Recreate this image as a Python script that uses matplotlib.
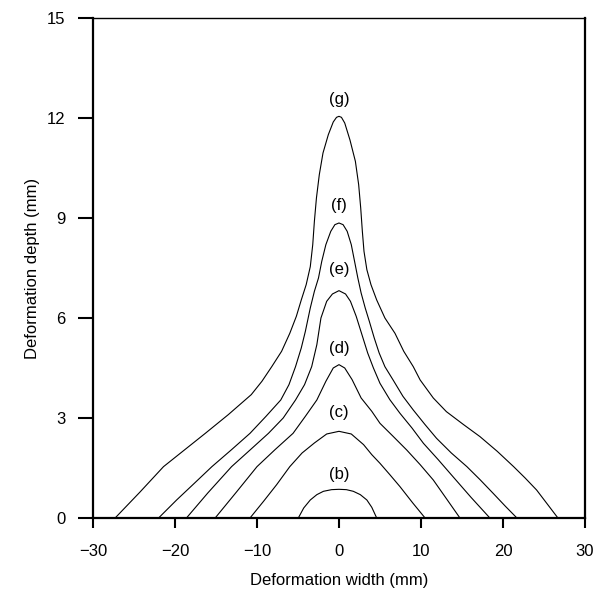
import matplotlib
matplotlib.use("Agg")
import matplotlib.pyplot as plt

plt.rcParams['font.family'] = ['Liberation Sans', 'DejaVu Sans']

# curve (b)
b_x = [-4.96, -4.3, -3.5, -2.7, -1.9, -0.9, 0, 0.9, 1.75, 2.6, 3.4, 4.0, 4.6]
b_y = [0, 0.3, 0.54, 0.7, 0.8, 0.85, 0.86, 0.85, 0.8, 0.7, 0.54, 0.32, 0]

# curve (c)
c_x = [-10.85, -9.2, -7.6, -6.0, -4.5, -3.0, -1.5, 0,
       1.5, 3.0, 4.0, 5.0, 6.2, 7.44, 9.0, 10.5]
c_y = [0, 0.5, 1.0, 1.54, 1.95, 2.25, 2.52, 2.6,
       2.52, 2.2, 1.9, 1.64, 1.3, 0.94, 0.45, 0]

# curve (d)
d_x = [-15.1, -12.5, -10.0, -7.8, -5.6, -4.1, -2.7, -1.6, -0.7, 0,
       0.7, 1.6, 2.7, 4.0, 5.0, 6.6, 8.26, 9.9, 11.5, 13.1, 14.75]
d_y = [0, 0.78, 1.54, 2.05, 2.54, 3.05, 3.54, 4.1, 4.5, 4.6,
       4.5, 4.15, 3.6, 3.2, 2.84, 2.45, 2.04, 1.6, 1.14, 0.58, 0]

# curve (e)
e_x = [-18.6, -16.0, -13.1, -10.8, -8.6, -6.8, -5.3, -4.2, -3.33, -2.7, -2.2, -1.5, -0.8, 0,
       0.8, 1.4, 2.1, 2.8, 3.5, 4.2, 5.0, 6.2, 7.44, 8.9, 10.3, 12.1, 13.9, 16.1, 18.4]
e_y = [0, 0.75, 1.54, 2.05, 2.54, 3.0, 3.54, 4.0, 4.54, 5.2, 6.0, 6.5, 6.72, 6.82,
       6.72, 6.5, 6.05, 5.5, 4.95, 4.5, 4.04, 3.55, 3.14, 2.7, 2.24, 1.75, 1.24, 0.62, 0]

# curve (f)
f_x = [-22.0, -19.8, -17.6, -15.5, -13.1, -10.85, -8.9, -7.1, -6.1, -5.3, -4.6, -4.1,
       -3.5, -3.0, -2.5, -2.1, -1.6, -1.0, -0.5, 0,
       0.5, 1.0, 1.5, 1.9, 2.3, 2.7, 3.2, 3.7, 4.3, 4.9, 5.6, 6.6, 7.8, 9.06, 10.5,
       11.9, 13.7, 15.6, 17.2, 18.8, 20.3, 21.7]
f_y = [0, 0.54, 1.05, 1.54, 2.05, 2.54, 3.05, 3.54, 4.0, 4.54, 5.1, 5.6,
       6.3, 6.8, 7.2, 7.7, 8.2, 8.6, 8.8, 8.85,
       8.8, 8.6, 8.2, 7.7, 7.2, 6.75, 6.3, 5.9, 5.4, 4.95, 4.54, 4.14, 3.65, 3.24, 2.8,
       2.39, 1.95, 1.54, 1.15, 0.74, 0.35, 0]

# curve (g)
g_x = [-27.3, -24.3, -21.4, -18.8, -16.3, -13.5, -10.7, -9.4, -8.2, -7.0, -6.0, -5.2,
       -4.6, -4.0, -3.5, -3.2, -3.0, -2.75, -2.4, -1.95, -1.3, -0.7, -0.3, 0,
       0.3, 0.7, 1.34, 2.0, 2.4, 2.65, 2.85, 3.05, 3.4, 3.9, 4.6, 5.6, 6.83, 7.9, 9.06,
       9.9, 11.5, 13.1, 15.2, 17.2, 19.3, 21.3, 22.7, 24.1, 25.4, 26.7]
g_y = [0, 0.77, 1.54, 2.05, 2.54, 3.1, 3.7, 4.1, 4.54, 5.0, 5.54, 6.05,
       6.54, 7.0, 7.54, 8.2, 8.9, 9.6, 10.3, 10.95, 11.5, 11.88, 12.02, 12.05,
       12.02, 11.85, 11.34, 10.7, 10.0, 9.3, 8.6, 8.0, 7.45, 7.0, 6.54, 6.0, 5.54, 5.0, 4.54,
       4.14, 3.6, 3.19, 2.8, 2.44, 2.0, 1.54, 1.2, 0.84, 0.42, 0]

labels = ['(b)', '(c)', '(d)', '(e)', '(f)', '(g)']
label_y = [1.29, 3.15, 5.07, 7.44, 9.36, 12.54]

fig = plt.figure(figsize=(6.11, 6.0), dpi=100)
ax = fig.add_axes([0.1522, 0.1367, 0.8052, 0.8333])

curves = [(b_x, b_y), (c_x, c_y), (d_x, d_y), (e_x, e_y), (f_x, f_y), (g_x, g_y)]
for (xs, ys), lab, ly in zip(curves, labels, label_y):
    ax.plot(xs, ys, color='black', lw=0.8)
    ax.text(0, ly, lab, ha='center', va='center', fontsize=12)

ax.set_xlim(-30, 30)
ax.set_ylim(0, 15)
ax.set_xticks([-30, -20, -10, 0, 10, 20, 30])
ax.set_yticks([0, 3, 6, 9, 12, 15])
ax.tick_params(axis='x', direction='out', length=7, width=1.5, pad=12, labelsize=12)
ax.tick_params(axis='y', direction='out', length=11, width=1.5, pad=9, labelsize=12)

for side in ['left', 'bottom', 'right']:
    ax.spines[side].set_linewidth(1.6)
ax.spines['top'].set_linewidth(1.0)

ax.set_xlabel('Deformation width (mm)', fontsize=12, labelpad=10)
ax.set_ylabel('Deformation depth (mm)', fontsize=12, labelpad=5)

fig.savefig('out.png', dpi=100)
